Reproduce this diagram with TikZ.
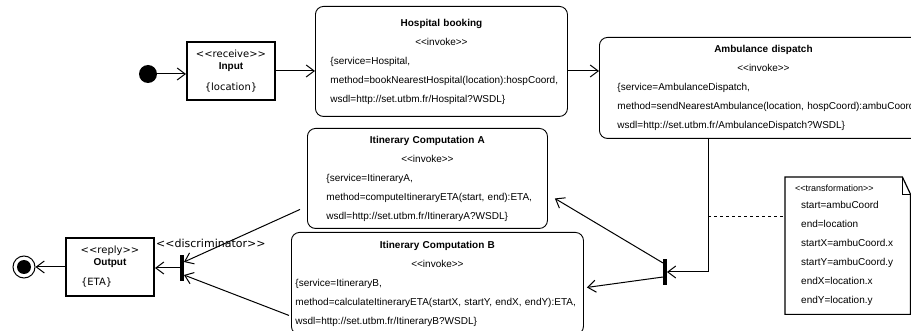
\documentclass[tikz,border=0pt]{standalone}
\usepackage{fontspec}
\setmainfont{Liberation Sans}
\newfontfamily\dejavu{DejaVu Sans}
\usetikzlibrary{arrows.meta,calc}
\newcommand{\stereo}[1]{<\kern0pt<#1>\kern0pt>}

\begin{document}
\begin{tikzpicture}[x=1pt,y=-1pt,
	service/.style={draw, line width=0.9pt, rounded corners=8pt, anchor=north west, inner ysep=0pt, font=\fontsize{10}{19}\selectfont},
	pin/.style={draw, line width=2pt, minimum width=88pt, minimum height=58pt, inner sep=0pt, align=center, font=\fontsize{10}{12}\selectfont},
	bar/.style={fill, minimum width=3.5pt, minimum height=26pt, inner sep=0pt},
	flow/.style={-{Straight Barb[length=8pt,width=12pt]}, line width=1pt}]
	\useasboundingbox (0,0) rectangle (911,331);
	\clip (0,0) rectangle (911,331);
	\node[circle, fill, minimum size=18pt, inner sep=0pt] (start) at (148,74) {};
	\node[pin] (input) at (231,71) {{\dejavu\stereo{receive}}\\\textbf{Input}\\[9pt]{\dejavu\{location\}}};
	\node[service, text width=222pt, inner xsep=15pt, minimum height=110pt] (hosp) at (315,6)
		{{\centering\textbf{Hospital booking}\\\stereo{invoke}\par}\raggedright
		\{service=Hospital,\\\mbox{method=bookNearestHospital(location):hospCoord,}\\wsdl=http://set.utbm.fr/Hospital?WSDL\}};
	\node[service, text width=292pt, inner xsep=18pt, minimum height=101pt] (amb) at (599,37)
		{{\centering\textbf{Ambulance dispatch}\\\stereo{invoke}\par}\raggedright
		\{service=AmbulanceDispatch,\\\mbox{method=sendNearestAmbulance(location, hospCoord):ambuCoord,}\\wsdl=http://set.utbm.fr/AmbulanceDispatch?WSDL\}};
	\node[service, text width=202pt, inner xsep=19pt, minimum height=100pt] (itinA) at (307,128)
		{{\centering\textbf{Itinerary Computation A}\\\stereo{invoke}\par}\raggedright
		\{service=ItineraryA,\\\mbox{method=computeItineraryETA(start, end):ETA,}\\wsdl=http://set.utbm.fr/ItineraryA?WSDL\}};
	\node[service, text width=284pt, inner xsep=4pt, minimum height=102pt] (itinB) at (291,232)
		{{\centering\textbf{Itinerary Computation B}\\\stereo{invoke}\par}\raggedright
		\{service=ItineraryB,\\\mbox{method=calculateItineraryETA(startX, startY, endX, endY):ETA,}\\wsdl=http://set.utbm.fr/ItineraryB?WSDL\}};
	\node[bar] (forkR) at (665,272) {};
	\node[bar] (forkL) at (182,268) {};
	\node[pin] (out) at (110,267) {{\dejavu\stereo{reply}}\\\textbf{Output}\\[8pt]\makebox[58pt][l]{\dejavu\{ETA\}}};
	\node[circle, draw, line width=1pt, minimum size=22pt, inner sep=0pt] (final) at (24,267) {};
	\fill (final) circle (7pt);
	\node[anchor=west, inner sep=0pt, font=\dejavu\fontsize{11}{13}\selectfont] (discr) at (156,243) {\stereo{discriminator}};
	\node[anchor=north west, minimum width=125pt, minimum height=137pt, inner sep=0pt, text width=105pt, align=left, font=\fontsize{10}{19}\selectfont] (trans) at (785,177)
		{{\fontsize{9}{9}\selectfont\stereo{transformation}}\\[-2pt]
		\hspace*{6pt}start=ambuCoord\\\hspace*{6pt}end=location\\\hspace*{6pt}startX=ambuCoord.x\\
		\hspace*{6pt}startY=ambuCoord.y\\\hspace*{6pt}endX=location.x\\\hspace*{6pt}endY=location.y};
	\draw[line width=1.2pt] (trans.north west) -- ($(trans.north east)+(-8,0)$) -- ($(trans.north east)+(0,17)$) -- (trans.south east) -- (trans.south west) -- cycle;
	\draw ($(trans.north east)+(-8,0)$) |- ($(trans.north east)+(0,17)$);
	\draw[flow] (start) -- (start -| input.west);
	\draw[flow] (input.east) -- (input.east -| hosp.west);
	\draw[flow] (input.east -| hosp.east) -- (input.east -| amb.west);
	\draw[flow] ($(amb.south)+(-55,0)$) |- (forkR.east);
	\coordinate (tap) at ($(amb.south)+(-55,78)$);
	\draw[dashed, line width=1pt] (tap) -- (tap -| trans.west);
	\draw[flow] ($(forkR.west)+(0,-9)$) -- ($(itinA.east)+(7,20)$);
	\draw[flow] ($(forkR.west)+(0,5)$) -- ($(itinB.east)+(3,4)$);
	\draw[flow] ($(itinA.west)+(-7,31)$) -- ($(forkL.east)+(0,-6)$);
	\draw[flow] ($(itinB.west)+(-2,32)$) -- ($(forkL.east)+(0,7)$);
	\draw[flow] (forkL.west) -- (forkL.west -| out.east);
	\draw[flow] (out.west) -- (final);
\end{tikzpicture}
\end{document}
